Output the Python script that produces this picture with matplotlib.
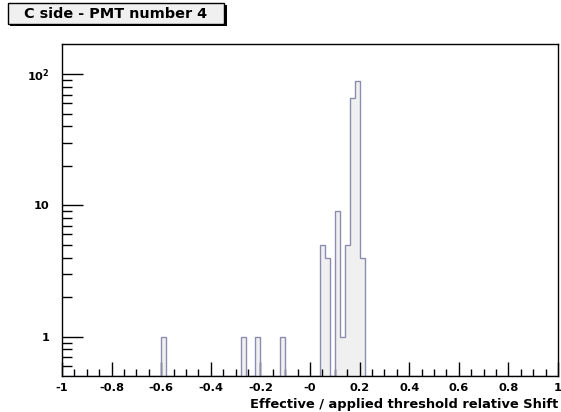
import numpy as np
import matplotlib.pyplot as plt
from matplotlib.patches import Rectangle
from matplotlib.ticker import FixedLocator, MultipleLocator

plt.rcParams['font.family'] = ['DejaVu Sans']
plt.rcParams['font.weight'] = 'bold'
plt.rcParams['axes.labelweight'] = 'bold'
plt.rcParams['mathtext.default'] = 'bf'

# histogram: 100 bins from -1 to 1, only non-empty bins listed
bin_lo = [-0.60, -0.28, -0.22, -0.12, 0.04, 0.06, 0.10, 0.12, 0.14, 0.16, 0.18, 0.20]
counts = [1, 1, 1, 1, 5, 4, 9, 1, 5, 66, 89, 4]
nbins, xmin, xmax = 100, -1.0, 1.0
ymin, ymax = 0.5, 170

title = "C side - PMT number 4"
xlabel = "Effective / applied threshold relative Shift"
xticks = [-1, -0.8, -0.6, -0.4, -0.2, 0, 0.2, 0.4, 0.6, 0.8, 1]
xticklabels = ["-1", "-0.8", "-0.6", "-0.4", "-0.2", "-0", "0.2", "0.4", "0.6", "0.8", "1"]

edges = np.linspace(xmin, xmax, nbins + 1)
h = np.zeros(nbins)
for lo, c in zip(bin_lo, counts):
    h[int(round((lo - xmin) / 0.02))] = c
h_plot = np.where(h > 0, h, ymin)

fig = plt.figure(figsize=(5.61, 4.12), dpi=100)
ax = fig.add_axes([62/561, 1 - 376/412, 496/561, 332/412])

ax.stairs(h_plot, edges, baseline=ymin, fill=True, color='#f0f0f0', zorder=1)
ax.stairs(h_plot, edges, baseline=ymin, color='#8c8cb0', lw=1.0, zorder=2)

ax.set_yscale('log')
ax.set_xlim(xmin, xmax)
ax.set_ylim(ymin, ymax)

ax.set_xticks(xticks)
ax.set_xticklabels(xticklabels)
ax.xaxis.set_minor_locator(MultipleLocator(0.05))
ax.yaxis.set_major_locator(FixedLocator([1, 10, 100]))
ax.set_yticklabels(["1", "10", r"$\mathbf{10^{2}}$"])
minor_y = [v * d for d in (0.1, 1, 10) for v in range(2, 10)]
ax.yaxis.set_minor_locator(FixedLocator([m for m in minor_y if ymin < m < ymax]))
ax.yaxis.set_minor_formatter(plt.NullFormatter())

ax.tick_params(axis='x', which='major', direction='in', length=10, width=1, labelsize=8.2, pad=5, top=False)
ax.tick_params(axis='x', which='minor', direction='in', length=5, width=1, top=False)
ax.tick_params(axis='y', which='major', direction='in', length=15, width=1, labelsize=8.2, pad=9, right=False)
ax.tick_params(axis='y', which='minor', direction='in', length=7.5, width=1, right=False)
for sp in ax.spines.values():
    sp.set_linewidth(1)

ax.set_xlabel(xlabel, fontsize=9.4, fontweight='bold', loc='right', labelpad=3.5)

# title box with shadow
W, H = 561, 412
fig.patches.append(Rectangle((10/W, 1 - 26/H), 217/W, 21/H, transform=fig.transFigure,
                             facecolor='black', edgecolor='none', zorder=1))
fig.patches.append(Rectangle((7.5/W, 1 - 23.5/H), 217/W, 20.5/H, transform=fig.transFigure,
                             facecolor='#f0f0f0', edgecolor='black', lw=1, zorder=2))
fig.text(116/W, 1 - 14.5/H, title, ha='center', va='center', fontsize=10.4, fontweight='bold', zorder=3)

fig.savefig('out.png', dpi=100)
